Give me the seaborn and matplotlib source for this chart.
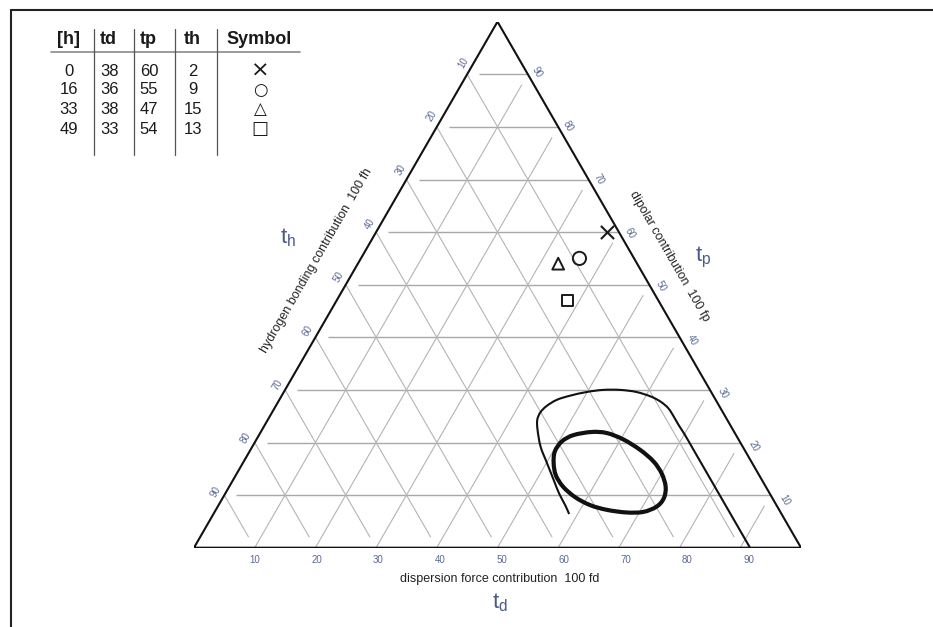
import numpy as np
import matplotlib
matplotlib.use("Agg")
import matplotlib.pyplot as plt
from matplotlib.path import Path
from matplotlib.patches import PathPatch
from matplotlib.lines import Line2D
from matplotlib.collections import LineCollection
import seaborn as sns

# Samples: exposure time [h] and fractional parameters (%)
hours = [0, 16, 33, 49]
td = [38, 36, 38, 33]
tp = [60, 55, 47, 54]
th = [2, 9, 15, 13]
table_symbols = ["×", "○", "△", "□"]
# marker drawn in the diagram for each sample position
plot_markers = ["x", "o", "s", "^"]
plot_fd = [38, 36, 38, 33]
plot_fp = [60, 55, 47, 54]

ticks = [10, 20, 30, 40, 50, 60, 70, 80, 90]

# Solubility boundary (thin line), fd / fp in %
outer_fd = [58.6, 57.1, 55.0, 52.8, 50.1, 47.5, 45.4, 44.4, 44.2, 44.6, 45.7,
            47.5, 49.9, 52.4, 55.2, 58.1, 61.0, 63.1, 64.9, 66.6, 68.2, 70.1,
            72.9, 78.8, 85.1, 91.6]
outer_fp = [6.4, 8.1, 10.3, 12.9, 16.1, 19.2, 22.4, 24.3, 25.7, 26.9, 28.1,
            28.9, 29.6, 30.0, 30.0, 29.6, 28.7, 27.7, 26.5, 24.9, 23.3, 21.5,
            18.7, 12.8, 6.5, 0.0]

# Region of good solvents (thick closed line), fd / fp in %
inner_fd = [54.5, 51.8, 50.5, 50.3, 51.2, 52.7, 55.0, 58.0, 61.2, 64.4, 67.9,
            70.6, 72.3, 72.7, 71.9, 70.0, 67.5, 64.2, 60.4, 57.1]
inner_fp = [22.0, 21.4, 20.2, 18.3, 16.1, 13.8, 11.6, 9.6, 8.1, 7.2, 6.7,
            6.8, 7.8, 9.4, 11.6, 14.1, 16.4, 18.6, 20.6, 21.8]

H = np.sqrt(3) / 2


def tern(fd, fp):
    fd = np.asarray(fd, float) / 100.0
    fp = np.asarray(fp, float) / 100.0
    return fd + fp / 2.0, fp * H


def smooth_path(x, y, closed):
    pts = np.column_stack([x, y])
    n = len(pts)

    def get(i):
        if closed:
            return pts[i % n]
        return pts[min(max(i, 0), n - 1)]

    nseg = n if closed else n - 1
    verts = [pts[0]]
    codes = [Path.MOVETO]
    for i in range(nseg):
        p0, p1, p2, p3 = get(i - 1), get(i), get(i + 1), get(i + 2)
        verts += [p1 + (p2 - p0) / 6.0, p2 - (p3 - p1) / 6.0, p2]
        codes += [Path.CURVE4] * 3
    return Path(verts, codes)


sns.set_theme(style="white")
plt.rcParams["font.family"] = ["Liberation Sans", "DejaVu Sans"]
plt.rcParams["mathtext.default"] = "regular"

W, HP = 933, 627
fig = plt.figure(figsize=(W / 100, HP / 100), dpi=100)
fig.patch.set_facecolor("white")


def fx(px):
    return px / W


def fy(py):
    return 1 - py / HP


x_left, x_right, y_top, y_bot = 194, 801, 21.7, 547.7
ax = fig.add_axes([fx(x_left), fy(y_bot), (x_right - x_left) / W, (y_bot - y_top) / HP])

# grid
hsegs, dsegs = [], []
for k in ticks:
    a = tern([2, 100 - k], [k, k])
    hsegs.append(list(zip(*a)))
    b = tern([k, k], [0, 98 - k])
    dsegs.append(list(zip(*b)))
    c = tern([0, 98 - k], [100 - k, 2])
    dsegs.append(list(zip(*c)))
ax.add_collection(LineCollection(hsegs, colors="#a8a8a8", linewidths=1.0, zorder=1))
ax.add_collection(LineCollection(dsegs, colors="#b4b4b4", linewidths=0.8, zorder=1))

# triangle frame
ex, ey = tern([0, 100, 0, 0], [0, 0, 100, 0])
ax.plot(ex, ey, color="#111111", lw=1.5, solid_joinstyle="miter", zorder=3)

# curves
ox, oy = tern(outer_fd, outer_fp)
ax.add_patch(PathPatch(smooth_path(ox, oy, False), fill=False, edgecolor="#111111",
                       lw=1.5, capstyle="butt", zorder=4))
ix, iy = tern(inner_fd, inner_fp)
ax.add_patch(PathPatch(smooth_path(ix, iy, True), fill=False, edgecolor="#111111",
                       lw=3.0, zorder=4))

# sample markers
mx, my = tern(plot_fd, plot_fp)
msize = {"x": 90, "o": 90, "s": 62, "^": 72}
for xi, yi, m in zip(mx, my, plot_markers):
    if m == "x":
        sns.scatterplot(x=[xi], y=[yi], marker=m, s=msize[m], color="#1a1a1a",
                        linewidth=1.5, ax=ax, zorder=5, legend=False)
    else:
        sns.scatterplot(x=[xi], y=[yi], marker=m, s=msize[m], color="none",
                        edgecolor="#1a1a1a", linewidth=1.4, ax=ax, zorder=5,
                        legend=False)
ax.set_xlim(0, 1)
ax.set_ylim(0, H)
ax.axis("off")

# tick labels
tick_col = "#5a6a96"
to_pt = 0.72
nL = np.array([-0.866, 0.5]); aL = np.array([0.5, 0.866])
nR = np.array([0.866, 0.5]); aR = np.array([0.5, -0.866])
for k in ticks:
    # bottom (fd)
    off = np.array([0.3 + (k - 10) / 80 * 8.4, -12.0]) * to_pt
    ax.annotate(str(k), xy=tern(k, 0), xytext=off, textcoords="offset points",
                ha="center", va="center", fontsize=7, color=tick_col,
                annotation_clip=False)
    # right (fp)
    off = ((8.4 + (90 - k) / 80 * 1.6) * nR + (3 + (90 - k) / 80 * 8.4) * aR) * to_pt
    ax.annotate(str(k), xy=tern(100 - k, k), xytext=off, textcoords="offset points",
                ha="center", va="center", fontsize=7, color=tick_col, rotation=-60,
                annotation_clip=False)
    # left (fh)
    fp = 100 - k
    off = (9.5 * nL + (-1.8 + (fp - 10) / 80 * 9.8) * aL) * to_pt
    ax.annotate(str(k), xy=tern(0, fp), xytext=off, textcoords="offset points",
                ha="center", va="center", fontsize=7, color=tick_col, rotation=60,
                annotation_clip=False)

# axis descriptions
fig.text(fx(500), fy(579), "dispersion force contribution  100 fd", ha="center",
         va="center", fontsize=9, color="#222222")
fig.text(fx(317), fy(261), "hydrogen bonding contribution  100 fh", ha="center",
         va="center", fontsize=9, color="#222222", rotation=60, rotation_mode="anchor")
fig.text(fx(669), fy(256), "dipolar contribution  100 fp", ha="center",
         va="center", fontsize=9, color="#222222", rotation=-60, rotation_mode="anchor")
lab_col = "#4a5a8c"
fig.text(fx(288), fy(238), r"$t_h$", ha="center", va="center", fontsize=16, color=lab_col)
fig.text(fx(703), fy(257), r"$t_p$", ha="center", va="center", fontsize=16, color=lab_col)
fig.text(fx(500), fy(603), r"$t_d$", ha="center", va="center", fontsize=16, color=lab_col)

# data table
head_y = 40
row_y = [71, 90, 109.5, 129]
head_x = [68, 108, 148, 192, 259]
col_x = [69, 110, 149, 193, 260]
sym_size = [16, 12, 12, 13]
for hx, name in zip(head_x, ["[h]", "td", "tp", "th", "Symbol"]):
    fig.text(fx(hx), fy(head_y), name, ha="center", va="center", fontsize=13,
             fontweight="bold", color="#1a1a1a")
for i, ry in enumerate(row_y):
    vals = [hours[i], td[i], tp[i], th[i]]
    for cx, v in zip(col_x[:4], vals):
        fig.text(fx(cx), fy(ry), str(v), ha="center", va="center", fontsize=12,
                 color="#1a1a1a")
    fig.text(fx(col_x[4]), fy(ry), table_symbols[i], ha="center", va="center",
             fontsize=sym_size[i], color="#1a1a1a", family=["DejaVu Sans"])
fig.add_artist(Line2D([fx(51), fx(300)], [fy(51.7), fy(51.7)], color="#8a8a8a",
                      lw=1.2, transform=fig.transFigure))
for vx in [94.3, 134.3, 175, 216.7]:
    fig.add_artist(Line2D([fx(vx), fx(vx)], [fy(29), fy(155)], color="#555555",
                          lw=0.9, transform=fig.transFigure))

# outer frame (top and left borders)
fig.add_artist(Line2D([fx(11), 1.0], [fy(10), fy(10)], color="#222222", lw=1.5,
                      transform=fig.transFigure))
fig.add_artist(Line2D([fx(11), fx(11)], [0.0, fy(10)], color="#222222", lw=1.5,
                      transform=fig.transFigure))

fig.savefig("out.png", dpi=100, facecolor="white")
